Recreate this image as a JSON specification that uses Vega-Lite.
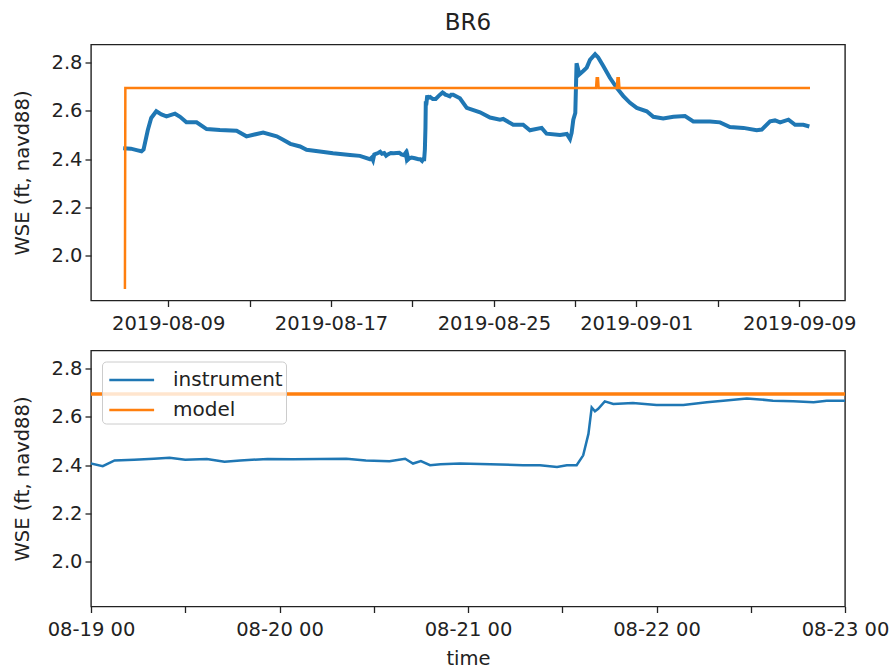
{
  "$schema": "https://vega.github.io/schema/vega-lite/v6.json",
  "autosize": {"type": "none"},
  "padding": {"left": 91, "top": 44.5, "right": 802, "bottom": 625.5},
  "background": "white",
  "config": {
    "font": "DejaVu Sans",
    "view": {"stroke": "#222222", "strokeWidth": 1.4},
    "axis": {
      "grid": false,
      "domain": false,
      "ticks": true,
      "tickColor": "#222222",
      "tickSize": 6,
      "tickWidth": 1.3,
      "labelFont": "DejaVu Sans",
      "labelFontSize": 19.5,
      "labelColor": "#222222",
      "titleFont": "DejaVu Sans",
      "titleFontSize": 19.5,
      "titleFontWeight": "normal",
      "titleColor": "#222222"
    },
    "axisX": {"labelPadding": 8, "labelFlush": false, "labelOverlap": false},
    "axisY": {"labelPadding": 3}
  },
  "datasets": {
    "wse": [
      {"series": "instrument", "time": "2019-08-06T19:00", "wse": 2.445},
      {"series": "instrument", "time": "2019-08-07T04:00", "wse": 2.443},
      {"series": "instrument", "time": "2019-08-07T12:00", "wse": 2.436},
      {"series": "instrument", "time": "2019-08-07T16:30", "wse": 2.432},
      {"series": "instrument", "time": "2019-08-07T19:00", "wse": 2.44},
      {"series": "instrument", "time": "2019-08-08T00:00", "wse": 2.52},
      {"series": "instrument", "time": "2019-08-08T04:00", "wse": 2.57},
      {"series": "instrument", "time": "2019-08-08T10:00", "wse": 2.598},
      {"series": "instrument", "time": "2019-08-08T16:00", "wse": 2.585},
      {"series": "instrument", "time": "2019-08-08T22:00", "wse": 2.577},
      {"series": "instrument", "time": "2019-08-09T08:00", "wse": 2.588},
      {"series": "instrument", "time": "2019-08-09T14:00", "wse": 2.575},
      {"series": "instrument", "time": "2019-08-09T21:30", "wse": 2.552},
      {"series": "instrument", "time": "2019-08-10T09:30", "wse": 2.552},
      {"series": "instrument", "time": "2019-08-10T21:20", "wse": 2.524},
      {"series": "instrument", "time": "2019-08-11T13:00", "wse": 2.52},
      {"series": "instrument", "time": "2019-08-12T08:40", "wse": 2.517},
      {"series": "instrument", "time": "2019-08-12T20:20", "wse": 2.494},
      {"series": "instrument", "time": "2019-08-13T16:00", "wse": 2.51},
      {"series": "instrument", "time": "2019-08-14T08:00", "wse": 2.494},
      {"series": "instrument", "time": "2019-08-14T15:30", "wse": 2.48},
      {"series": "instrument", "time": "2019-08-15T00:00", "wse": 2.463},
      {"series": "instrument", "time": "2019-08-15T11:30", "wse": 2.452},
      {"series": "instrument", "time": "2019-08-15T19:10", "wse": 2.438},
      {"series": "instrument", "time": "2019-08-16T10:50", "wse": 2.431},
      {"series": "instrument", "time": "2019-08-17T02:20", "wse": 2.424},
      {"series": "instrument", "time": "2019-08-17T22:20", "wse": 2.417},
      {"series": "instrument", "time": "2019-08-18T10:00", "wse": 2.413},
      {"series": "instrument", "time": "2019-08-18T21:50", "wse": 2.399},
      {"series": "instrument", "time": "2019-08-19T00:00", "wse": 2.406},
      {"series": "instrument", "time": "2019-08-19T01:30", "wse": 2.395},
      {"series": "instrument", "time": "2019-08-19T03:00", "wse": 2.419},
      {"series": "instrument", "time": "2019-08-19T05:30", "wse": 2.422},
      {"series": "instrument", "time": "2019-08-19T08:00", "wse": 2.426},
      {"series": "instrument", "time": "2019-08-19T10:00", "wse": 2.43},
      {"series": "instrument", "time": "2019-08-19T12:00", "wse": 2.422},
      {"series": "instrument", "time": "2019-08-19T14:45", "wse": 2.425},
      {"series": "instrument", "time": "2019-08-19T17:00", "wse": 2.414},
      {"series": "instrument", "time": "2019-08-19T19:00", "wse": 2.419},
      {"series": "instrument", "time": "2019-08-19T22:30", "wse": 2.425},
      {"series": "instrument", "time": "2019-08-20T01:45", "wse": 2.424},
      {"series": "instrument", "time": "2019-08-20T05:10", "wse": 2.425},
      {"series": "instrument", "time": "2019-08-20T08:30", "wse": 2.426},
      {"series": "instrument", "time": "2019-08-20T11:00", "wse": 2.419},
      {"series": "instrument", "time": "2019-08-20T14:00", "wse": 2.416},
      {"series": "instrument", "time": "2019-08-20T16:00", "wse": 2.426},
      {"series": "instrument", "time": "2019-08-20T17:00", "wse": 2.406},
      {"series": "instrument", "time": "2019-08-20T18:00", "wse": 2.416},
      {"series": "instrument", "time": "2019-08-20T19:10", "wse": 2.399},
      {"series": "instrument", "time": "2019-08-20T20:30", "wse": 2.403},
      {"series": "instrument", "time": "2019-08-20T23:00", "wse": 2.406},
      {"series": "instrument", "time": "2019-08-21T02:50", "wse": 2.403},
      {"series": "instrument", "time": "2019-08-21T07:00", "wse": 2.399},
      {"series": "instrument", "time": "2019-08-21T09:10", "wse": 2.399},
      {"series": "instrument", "time": "2019-08-21T11:20", "wse": 2.392},
      {"series": "instrument", "time": "2019-08-21T12:35", "wse": 2.399},
      {"series": "instrument", "time": "2019-08-21T13:50", "wse": 2.399},
      {"series": "instrument", "time": "2019-08-21T14:40", "wse": 2.44},
      {"series": "instrument", "time": "2019-08-21T15:20", "wse": 2.529},
      {"series": "instrument", "time": "2019-08-21T15:45", "wse": 2.639},
      {"series": "instrument", "time": "2019-08-21T16:10", "wse": 2.623},
      {"series": "instrument", "time": "2019-08-21T16:35", "wse": 2.633},
      {"series": "instrument", "time": "2019-08-21T17:25", "wse": 2.664},
      {"series": "instrument", "time": "2019-08-21T18:30", "wse": 2.653},
      {"series": "instrument", "time": "2019-08-21T21:00", "wse": 2.657},
      {"series": "instrument", "time": "2019-08-22T00:00", "wse": 2.649},
      {"series": "instrument", "time": "2019-08-22T03:25", "wse": 2.649},
      {"series": "instrument", "time": "2019-08-22T06:25", "wse": 2.66},
      {"series": "instrument", "time": "2019-08-22T08:30", "wse": 2.667},
      {"series": "instrument", "time": "2019-08-22T11:30", "wse": 2.676},
      {"series": "instrument", "time": "2019-08-22T13:10", "wse": 2.672},
      {"series": "instrument", "time": "2019-08-22T14:50", "wse": 2.667},
      {"series": "instrument", "time": "2019-08-22T17:25", "wse": 2.664},
      {"series": "instrument", "time": "2019-08-22T20:00", "wse": 2.66},
      {"series": "instrument", "time": "2019-08-22T21:40", "wse": 2.667},
      {"series": "instrument", "time": "2019-08-23T00:00", "wse": 2.667},
      {"series": "instrument", "time": "2019-08-23T08:00", "wse": 2.652},
      {"series": "instrument", "time": "2019-08-23T16:00", "wse": 2.612},
      {"series": "instrument", "time": "2019-08-24T07:40", "wse": 2.594},
      {"series": "instrument", "time": "2019-08-24T19:30", "wse": 2.572},
      {"series": "instrument", "time": "2019-08-25T07:10", "wse": 2.563},
      {"series": "instrument", "time": "2019-08-25T11:00", "wse": 2.566},
      {"series": "instrument", "time": "2019-08-25T22:50", "wse": 2.542},
      {"series": "instrument", "time": "2019-08-26T10:30", "wse": 2.542},
      {"series": "instrument", "time": "2019-08-26T18:30", "wse": 2.519},
      {"series": "instrument", "time": "2019-08-27T08:20", "wse": 2.529},
      {"series": "instrument", "time": "2019-08-27T14:10", "wse": 2.505},
      {"series": "instrument", "time": "2019-08-28T06:00", "wse": 2.5},
      {"series": "instrument", "time": "2019-08-28T14:00", "wse": 2.504},
      {"series": "instrument", "time": "2019-08-28T17:45", "wse": 2.483},
      {"series": "instrument", "time": "2019-08-28T19:40", "wse": 2.508},
      {"series": "instrument", "time": "2019-08-28T21:40", "wse": 2.563},
      {"series": "instrument", "time": "2019-08-29T00:00", "wse": 2.591},
      {"series": "instrument", "time": "2019-08-29T01:30", "wse": 2.797},
      {"series": "instrument", "time": "2019-08-29T04:50", "wse": 2.751},
      {"series": "instrument", "time": "2019-08-29T09:20", "wse": 2.765},
      {"series": "instrument", "time": "2019-08-29T13:30", "wse": 2.779},
      {"series": "instrument", "time": "2019-08-29T17:20", "wse": 2.811},
      {"series": "instrument", "time": "2019-08-29T23:20", "wse": 2.835},
      {"series": "instrument", "time": "2019-08-30T03:00", "wse": 2.821},
      {"series": "instrument", "time": "2019-08-30T09:00", "wse": 2.786},
      {"series": "instrument", "time": "2019-08-30T16:50", "wse": 2.737},
      {"series": "instrument", "time": "2019-08-31T00:40", "wse": 2.696},
      {"series": "instrument", "time": "2019-08-31T08:40", "wse": 2.661},
      {"series": "instrument", "time": "2019-08-31T16:30", "wse": 2.633},
      {"series": "instrument", "time": "2019-09-01T00:30", "wse": 2.612},
      {"series": "instrument", "time": "2019-09-01T12:15", "wse": 2.598},
      {"series": "instrument", "time": "2019-09-01T20:00", "wse": 2.575},
      {"series": "instrument", "time": "2019-09-02T07:40", "wse": 2.568},
      {"series": "instrument", "time": "2019-09-02T19:40", "wse": 2.575},
      {"series": "instrument", "time": "2019-09-03T09:20", "wse": 2.578},
      {"series": "instrument", "time": "2019-09-03T19:10", "wse": 2.556},
      {"series": "instrument", "time": "2019-09-04T14:50", "wse": 2.556},
      {"series": "instrument", "time": "2019-09-05T02:40", "wse": 2.552},
      {"series": "instrument", "time": "2019-09-05T14:20", "wse": 2.533},
      {"series": "instrument", "time": "2019-09-06T06:10", "wse": 2.529},
      {"series": "instrument", "time": "2019-09-06T21:50", "wse": 2.519},
      {"series": "instrument", "time": "2019-09-07T03:50", "wse": 2.522},
      {"series": "instrument", "time": "2019-09-07T13:40", "wse": 2.556},
      {"series": "instrument", "time": "2019-09-07T19:30", "wse": 2.56},
      {"series": "instrument", "time": "2019-09-08T01:30", "wse": 2.552},
      {"series": "instrument", "time": "2019-09-08T11:20", "wse": 2.563},
      {"series": "instrument", "time": "2019-09-08T19:10", "wse": 2.542},
      {"series": "instrument", "time": "2019-09-09T04:50", "wse": 2.542},
      {"series": "instrument", "time": "2019-09-09T12:00", "wse": 2.535},
      {"series": "model", "time": "2019-08-06T21:00", "wse": 1.861},
      {"series": "model", "time": "2019-08-06T21:30", "wse": 2.695},
      {"series": "model", "time": "2019-08-30T00:30", "wse": 2.695},
      {"series": "model", "time": "2019-08-30T01:15", "wse": 2.735},
      {"series": "model", "time": "2019-08-30T02:45", "wse": 2.735},
      {"series": "model", "time": "2019-08-30T03:30", "wse": 2.695},
      {"series": "model", "time": "2019-08-31T01:00", "wse": 2.695},
      {"series": "model", "time": "2019-08-31T01:45", "wse": 2.735},
      {"series": "model", "time": "2019-08-31T03:15", "wse": 2.735},
      {"series": "model", "time": "2019-08-31T04:00", "wse": 2.695},
      {"series": "model", "time": "2019-09-09T12:45", "wse": 2.695}
    ]
  },
  "vconcat": [
    {
      "width": 754,
      "height": 256,
      "title": {
        "text": "BR6",
        "font": "DejaVu Sans",
        "fontSize": 23,
        "fontWeight": "normal",
        "color": "#222222",
        "anchor": "middle",
        "offset": 10
      },
      "data": {"name": "wse"},
      "encoding": {
        "x": {
          "field": "time",
          "type": "temporal",
          "scale": {
            "domain": [
              {"year": 2019, "month": 8, "date": 5, "hours": 5},
              {"year": 2019, "month": 9, "date": 11, "hours": 6}
            ]
          },
          "axis": {
            "title": null,
            "values": [
              {"year": 2019, "month": 8, "date": 9},
              {"year": 2019, "month": 8, "date": 13},
              {"year": 2019, "month": 8, "date": 17},
              {"year": 2019, "month": 8, "date": 21},
              {"year": 2019, "month": 8, "date": 25},
              {"year": 2019, "month": 8, "date": 29},
              {"year": 2019, "month": 9, "date": 1},
              {"year": 2019, "month": 9, "date": 5},
              {"year": 2019, "month": 9, "date": 9}
            ],
            "labelExpr": "indexof(['08-09', '08-17', '08-25', '09-01', '09-09'], timeFormat(datum.value, '%m-%d')) >= 0 ? timeFormat(datum.value, '%Y-%m-%d') : ''"
          }
        },
        "y": {
          "field": "wse",
          "type": "quantitative",
          "scale": {"domain": [1.813, 2.875], "nice": false, "zero": false},
          "axis": {
            "title": "WSE (ft, navd88)",
            "values": [2.0, 2.2, 2.4, 2.6, 2.8],
            "format": ".1f",
            "titleX": -59,
            "titleBaseline": "bottom"
          }
        },
        "color": {
          "field": "series",
          "type": "nominal",
          "scale": {"domain": ["instrument", "model"], "range": ["#1f77b4", "#ff7f0e"]},
          "legend": null
        }
      },
      "layer": [
        {
          "transform": [{"filter": "datum.series === 'instrument'"}],
          "mark": {"type": "line", "strokeWidth": 4, "clip": true}
        },
        {
          "transform": [{"filter": "datum.series === 'model'"}],
          "mark": {"type": "line", "strokeWidth": 2.5, "clip": true}
        }
      ]
    },
    {
      "width": 754,
      "height": 256,
      "data": {"name": "wse"},
      "encoding": {
        "x": {
          "field": "time",
          "type": "temporal",
          "scale": {
            "domain": [
              {"year": 2019, "month": 8, "date": 19},
              {"year": 2019, "month": 8, "date": 23}
            ]
          },
          "axis": {
            "title": "time",
            "titleBaseline": "alphabetic",
            "titleY": 58,
            "values": [
              {"year": 2019, "month": 8, "date": 19, "hours": 0},
              {"year": 2019, "month": 8, "date": 19, "hours": 12},
              {"year": 2019, "month": 8, "date": 20, "hours": 0},
              {"year": 2019, "month": 8, "date": 20, "hours": 12},
              {"year": 2019, "month": 8, "date": 21, "hours": 0},
              {"year": 2019, "month": 8, "date": 21, "hours": 12},
              {"year": 2019, "month": 8, "date": 22, "hours": 0},
              {"year": 2019, "month": 8, "date": 22, "hours": 12},
              {"year": 2019, "month": 8, "date": 23, "hours": 0}
            ],
            "labelExpr": "hours(datum.value) === 0 ? timeFormat(datum.value, '%m-%d %H') : ''"
          }
        },
        "y": {
          "field": "wse",
          "type": "quantitative",
          "scale": {"domain": [1.813, 2.875], "nice": false, "zero": false},
          "axis": {
            "title": "WSE (ft, navd88)",
            "values": [2.0, 2.2, 2.4, 2.6, 2.8],
            "format": ".1f",
            "titleX": -59,
            "titleBaseline": "bottom"
          }
        },
        "color": {
          "field": "series",
          "type": "nominal",
          "scale": {"domain": ["instrument", "model"], "range": ["#1f77b4", "#ff7f0e"]},
          "legend": {
            "title": null,
            "orient": "top-left",
            "offset": 10.5,
            "padding": 3,
            "fillColor": "rgba(255,255,255,0.8)",
            "strokeColor": "#cccccc",
            "cornerRadius": 4,
            "symbolType": "M-0.8,0H2.4",
            "symbolSize": 784,
            "symbolStrokeWidth": 2.5,
            "labelFont": "DejaVu Sans",
            "labelFontSize": 20,
            "labelColor": "#222222",
            "labelOffset": 37,
            "rowPadding": 4
          }
        }
      },
      "layer": [
        {
          "transform": [{"filter": "datum.series === 'instrument'"}],
          "mark": {"type": "line", "strokeWidth": 2.5, "clip": true}
        },
        {
          "transform": [{"filter": "datum.series === 'model'"}],
          "mark": {"type": "line", "strokeWidth": 3.5, "clip": true}
        }
      ]
    }
  ],
  "spacing": 50,
  "bounds": "flush",
  "resolve": {"legend": {"color": "independent"}}
}
